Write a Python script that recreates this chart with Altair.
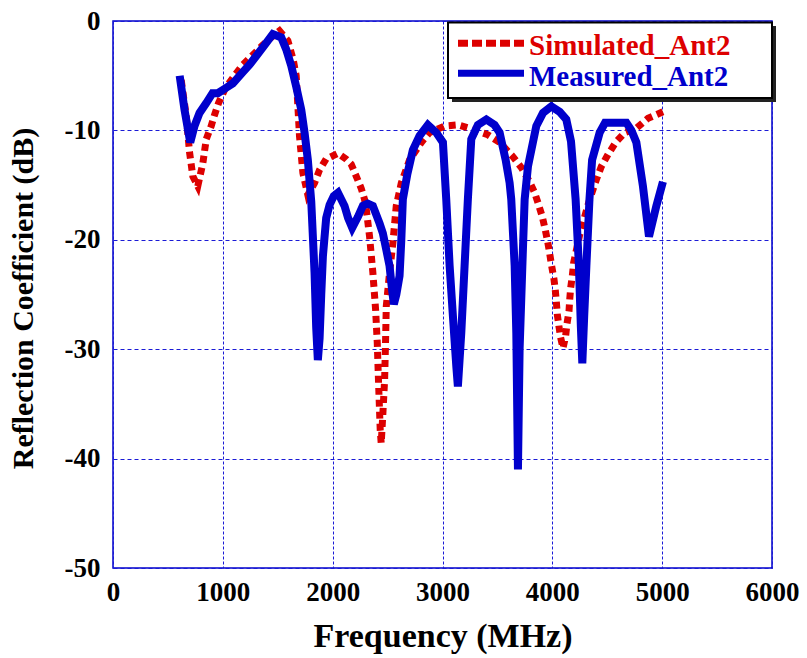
import altair as alt
import pandas as pd

# ---- data ----
meas_freq = [607, 651, 703, 742, 788, 849, 906, 955, 1031, 1091, 1180, 1243, 1304, 1380, 1455,
             1532, 1577, 1623, 1668, 1714, 1744, 1774, 1805, 1835, 1850, 1865, 1881, 1896, 1911,
             1941, 1972, 2010, 2048, 2108, 2140, 2178, 2230, 2275, 2320, 2366, 2427, 2457, 2490,
             2518, 2540, 2557, 2580, 2609, 2625, 2639, 2680, 2730, 2791, 2867, 2943, 3004, 3034,
             3065, 3095, 3126, 3140, 3171, 3201, 3231, 3262, 3322, 3399, 3474, 3520, 3575, 3611,
             3626, 3657, 3672, 3687, 3702, 3727, 3748, 3778, 3854, 3915, 3991, 4067, 4127, 4170,
             4212, 4242, 4260, 4273, 4290, 4310, 4338, 4362, 4431, 4480, 4522, 4600, 4674, 4720,
             4765, 4825, 4880, 4947, 5007]
meas_db = [-5.0, -8.1, -11.1, -9.6, -8.4, -7.5, -6.6, -6.6, -6.1, -5.7, -4.7, -4.0, -3.2, -2.2, -1.2,
           -1.5, -2.6, -4.1, -6.0, -8.1, -10.2, -12.7, -16.5, -23.0, -28.0, -31.0, -29.0, -25.0, -21.5,
           -18.0, -16.8, -16.0, -15.7, -16.9, -18.0, -18.9, -17.9, -16.9, -16.7, -16.9, -18.5, -19.4, -21.0,
           -22.4, -24.5, -25.9, -25.0, -23.3, -20.0, -16.3, -14.0, -11.8, -10.5, -9.5, -10.2, -11.1, -16.3,
           -22.4, -27.0, -31.6, -33.4, -28.5, -22.4, -16.3, -10.8, -9.5, -9.0, -9.5, -10.2, -12.7, -14.8,
           -16.3, -22.4, -28.5, -41.0, -30.0, -22.4, -16.3, -13.3, -9.6, -8.4, -7.8, -8.3, -9.0, -11.0,
           -16.3, -22.4, -28.0, -31.3, -27.0, -22.4, -16.3, -12.7, -10.2, -9.3, -9.3, -9.3, -9.3, -10.0,
           -11.1, -15.1, -19.7, -16.9, -14.7]

sim_freq = [621, 667, 697, 727, 772, 818, 849, 894, 924, 961, 1020, 1091, 1182, 1273, 1364, 1440,
            1516, 1592, 1640, 1668, 1698, 1729, 1774, 1835, 1881, 1941, 2048, 2120, 2169, 2215,
            2260, 2290, 2306, 2336, 2366, 2391, 2406, 2418, 2433, 2442, 2457, 2473, 2482, 2488,
            2518, 2548, 2579, 2625, 2700, 2807, 2882, 3019, 3140, 3277, 3413, 3520, 3641, 3718,
            3793, 3839, 3869, 3909, 3936, 3960, 3975, 3994, 4015, 4027, 4036, 4045, 4060, 4075,
            4097, 4121, 4133, 4152, 4158, 4167, 4182, 4194, 4250, 4294, 4340, 4401, 4446, 4507,
            4577, 4659, 4765, 4871, 5007]
sim_db = [-5.4, -8.7, -12.0, -14.2, -15.1, -13.0, -10.8, -9.6, -8.6, -7.5, -6.2, -5.2, -4.0, -3.1, -2.2, -1.5,
          -0.9, -1.8, -3.5, -5.0, -10.5, -13.9, -15.9, -14.8, -13.6, -12.6, -12.1, -12.6, -13.1, -14.2,
          -15.3, -16.3, -17.2, -19.7, -23.0, -26.4, -29.4, -33.1, -37.4, -38.6, -35.9, -32.8, -29.1, -26.1,
          -23.0, -20.3, -16.9, -14.8, -12.7, -11.1, -10.2, -9.6, -9.5, -9.9, -10.4, -11.1, -12.4, -13.4,
          -14.7, -15.7, -16.6, -17.9, -19.1, -20.3, -21.2, -22.4, -23.6, -24.6, -25.6, -26.8, -27.9, -28.9,
          -29.9, -28.8, -27.7, -26.5, -25.5, -24.4, -23.3, -22.1, -19.5, -17.9, -16.3, -14.5, -13.3, -12.2,
          -11.1, -10.2, -9.8, -8.9, -8.3]

x_ticks = [0, 1000, 2000, 3000, 4000, 5000, 6000]
y_ticks = [0, -10, -20, -30, -40, -50]
series_names = ["Simulated_Ant2", "Measured_Ant2"]

# ---- styling ----
FONT = "Liberation Serif"
RED = "#dd0000"
BLUE = "#0000cc"
GRID = "#1a1ad6"
W, H = 659, 547

sim = pd.DataFrame({"freq": sim_freq, "db": sim_db})
meas = pd.DataFrame({"freq": meas_freq, "db": meas_db})
one = pd.DataFrame({"k": [0]})

x_scale = alt.Scale(domain=[0, 6000], nice=False, zero=False)
y_scale = alt.Scale(domain=[-50, 0], nice=False, zero=False)

x_axis = alt.Axis(values=x_ticks, title="Frequency (MHz)", labelExpr="'' + datum.value",
                  labelFont=FONT, labelFontWeight="bold", labelFontSize=27, labelColor="black",
                  labelPadding=11, ticks=False, domain=False, labelFlush=False,
                  grid=True, gridColor=GRID, gridDash=[3, 2], gridWidth=1, gridOpacity=1,
                  titleFont=FONT, titleFontWeight="bold", titleFontSize=34, titleColor="black",
                  titleX=W / 2, titleY=78, titleAlign="center", titleBaseline="alphabetic")
y_axis = alt.Axis(values=y_ticks, title="Reflection Coefficient (dB)", labelExpr="'' + datum.value",
                  labelFont=FONT, labelFontWeight="bold", labelFontSize=27, labelColor="black",
                  labelPadding=13, ticks=False, domain=False, labelFlush=False,
                  grid=True, gridColor=GRID, gridDash=[4, 3], gridWidth=1, gridOpacity=1,
                  titleFont=FONT, titleFontWeight="bold", titleFontSize=30, titleColor="black",
                  titleAngle=270, titleX=-90, titleY=277, titleAlign="center", titleBaseline="middle")

sim_line = alt.Chart(sim).mark_line(color=RED, strokeWidth=7, strokeDash=[7, 5],
                                    strokeCap="butt", clip=True).encode(
    x=alt.X("freq:Q", scale=x_scale, axis=x_axis),
    y=alt.Y("db:Q", scale=y_scale, axis=y_axis),
)
meas_line = alt.Chart(meas).mark_line(color=BLUE, strokeWidth=8, strokeCap="butt",
                                      strokeJoin="miter", clip=True).encode(
    x=alt.X("freq:Q", scale=x_scale),
    y=alt.Y("db:Q", scale=y_scale),
)

# ---- legend box (drawn by hand, as in the original) ----
shadow = alt.Chart(one).mark_rect(color="#222222").encode(
    x=alt.value(339), x2=alt.value(663), y=alt.value(5), y2=alt.value(81))
box = alt.Chart(one).mark_rect(fill="white", stroke="black", strokeWidth=2).encode(
    x=alt.value(335), x2=alt.value(659), y=alt.value(1.5), y2=alt.value(77))
leg_red = alt.Chart(one).mark_rule(color=RED, strokeWidth=7, strokeDash=[10, 4]).encode(
    x=alt.value(345), x2=alt.value(411), y=alt.value(22.3))
leg_blue = alt.Chart(one).mark_rule(color=BLUE, strokeWidth=7).encode(
    x=alt.value(345), x2=alt.value(411), y=alt.value(52.3))
txt_red = alt.Chart(one).mark_text(align="left", baseline="alphabetic", font=FONT, fontWeight="bold",
                                   fontSize=29, color=RED).encode(
    x=alt.value(416), y=alt.value(33.5), text=alt.value(series_names[0]))
txt_blue = alt.Chart(one).mark_text(align="left", baseline="alphabetic", font=FONT, fontWeight="bold",
                                    fontSize=29, color=BLUE).encode(
    x=alt.value(416), y=alt.value(64.5), text=alt.value(series_names[1]))

chart = alt.layer(sim_line, meas_line, shadow, box, leg_red, leg_blue, txt_red, txt_blue).properties(
    width=W, height=H,
    autosize=alt.AutoSizeParams(type="none"),
    padding={"left": 113, "top": 21, "right": 35, "bottom": 90},
    background="white",
).configure_view(stroke=BLUE, strokeWidth=1.5)

chart.save("out.html", embed_options={"renderer": "svg", "actions": False})
